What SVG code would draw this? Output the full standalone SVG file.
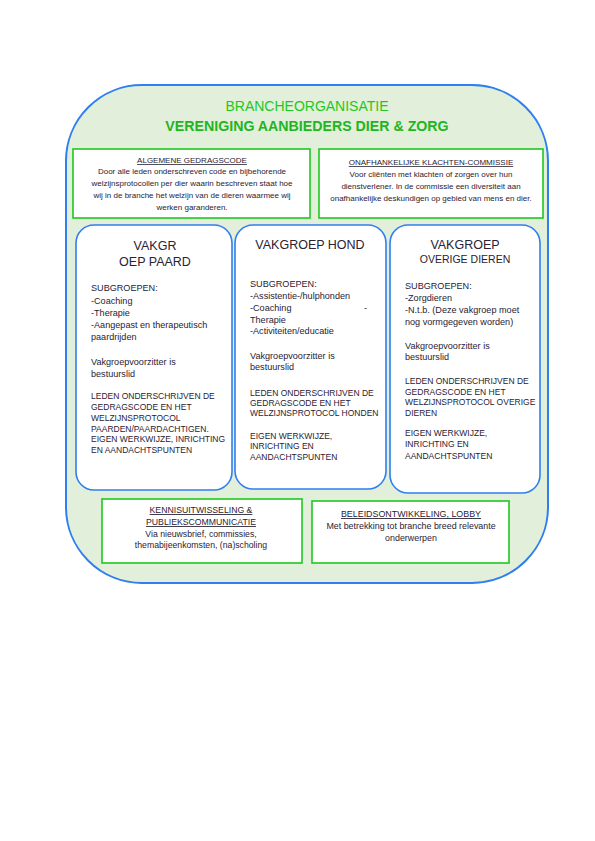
<svg xmlns="http://www.w3.org/2000/svg" width="595" height="841" viewBox="0 0 595 841">
<style>
text{font-family:"Liberation Sans",Arial,sans-serif;fill:#2a2233}
.t{font-size:8px;text-anchor:middle}
.u{text-decoration:underline}
.b{font-size:9.1px}
.c{font-size:8.5px}
.h{font-size:12.5px;text-anchor:middle}
.gbox{fill:#fff;stroke:#1ec81e;stroke-width:1.6}
.vbox{fill:#fff;stroke:#2f7ff0;stroke-width:1.6}
</style>
<rect width="595" height="841" fill="#fff"/>
<g id="brancheorganisatie">
<rect x="66" y="85" width="482" height="498" rx="76" ry="76" fill="#e2efda" stroke="#2f7ff0" stroke-width="2"/>
<text x="307" y="111" style="font-size:14px;text-anchor:middle;fill:#1ec81e">BRANCHEORGANISATIE</text>
<text x="307" y="131" style="font-size:14.2px;font-weight:bold;text-anchor:middle;fill:#22b522">VERENIGING AANBIEDERS DIER &amp; ZORG</text>
</g>
<g id="gedragscode">
<rect class="gbox" x="73" y="149" width="237" height="69"/>
<text class="t u" x="192" y="163">ALGEMENE GEDRAGSCODE</text>
<text class="t" x="192" y="174">Door alle leden onderschreven code en bijbehorende</text>
<text class="t" x="192" y="186">welzijnsprotocollen per dier waarin beschreven staat hoe</text>
<text class="t" x="192" y="198">wij in de branche het welzijn van de dieren waarmee wij</text>
<text class="t" x="192" y="210">werken garanderen.</text>
</g>
<g id="klachtencommissie">
<rect class="gbox" x="319" y="149" width="224" height="69"/>
<text class="t u" x="431" y="165">ONAFHANKELIJKE KLACHTEN-COMMISSIE</text>
<text class="t" x="431" y="177">Voor cliënten met klachten of zorgen over hun</text>
<text class="t" x="431" y="189">dienstverlener. In de commissie een diversiteit aan</text>
<text class="t" x="431" y="201">onafhankelijke deskundigen op gebied van mens en dier.</text>
</g>
<g id="vakgroep-paard">
<rect class="vbox" x="76" y="225" width="156" height="265" rx="18"/>
<text class="h" x="155" y="250">VAKGR</text>
<text class="h" x="155" y="266">OEP PAARD</text>
<text class="b" x="91" y="291">SUBGROEPEN:</text>
<text class="b" x="91" y="304">-Coaching</text>
<text class="b" x="91" y="316">-Therapie</text>
<text class="b" x="91" y="328">-Aangepast en therapeutisch</text>
<text class="b" x="91" y="340">paardrijden</text>
<text class="b" x="91" y="365">Vakgroepvoorzitter is</text>
<text class="b" x="91" y="377">bestuurslid</text>
<text class="c" x="91" y="399">LEDEN ONDERSCHRIJVEN DE</text>
<text class="c" x="91" y="410">GEDRAGSCODE EN HET</text>
<text class="c" x="91" y="421">WELZIJNSPROTOCOL</text>
<text class="c" x="91" y="432">PAARDEN/PAARDACHTIGEN.</text>
<text class="c" x="91" y="442">EIGEN WERKWIJZE, INRICHTING</text>
<text class="c" x="91" y="453">EN AANDACHTSPUNTEN</text>
</g>
<g id="vakgroep-hond">
<rect class="vbox" x="235" y="225" width="151" height="264" rx="18"/>
<text class="h" x="310" y="249">VAKGROEP HOND</text>
<text class="b" x="250" y="287">SUBGROEPEN:</text>
<text class="b" x="250" y="299">-Assistentie-/hulphonden</text>
<text class="b" x="250" y="311">-Coaching</text>
<text class="b" x="364" y="311">-</text>
<text class="b" x="250" y="323">Therapie</text>
<text class="b" x="250" y="334">-Activiteiten/educatie</text>
<text class="b" x="250" y="359">Vakgroepvoorzitter is</text>
<text class="b" x="250" y="370">bestuurslid</text>
<text class="c" x="250" y="396">LEDEN ONDERSCHRIJVEN DE</text>
<text class="c" x="250" y="406">GEDRAGSCODE EN HET</text>
<text class="c" x="250" y="416">WELZIJNSPROTOCOL HONDEN</text>
<text class="c" x="250" y="439">EIGEN WERKWIJZE,</text>
<text class="c" x="250" y="449">INRICHTING EN</text>
<text class="c" x="250" y="460">AANDACHTSPUNTEN</text>
</g>
<g id="vakgroep-overige">
<rect class="vbox" x="390" y="225" width="150" height="268" rx="18"/>
<text class="h" x="465" y="249">VAKGROEP</text>
<text x="465" y="263" style="font-size:10.5px;text-anchor:middle">OVERIGE DIEREN</text>
<text class="b" x="405" y="289">SUBGROEPEN:</text>
<text class="b" x="405" y="301">-Zorgdieren</text>
<text class="b" x="405" y="313">-N.t.b. (Deze vakgroep moet</text>
<text class="b" x="405" y="325">nog vormgegeven worden)</text>
<text class="b" x="405" y="349">Vakgroepvoorzitter is</text>
<text class="b" x="405" y="360">bestuurslid</text>
<text class="c" x="405" y="384">LEDEN ONDERSCHRIJVEN DE</text>
<text class="c" x="405" y="395">GEDRAGSCODE EN HET</text>
<text class="c" x="405" y="405">WELZIJNSPROTOCOL OVERIGE</text>
<text class="c" x="405" y="416">DIEREN</text>
<text class="c" x="405" y="436">EIGEN WERKWIJZE,</text>
<text class="c" x="405" y="447">INRICHTING EN</text>
<text class="c" x="405" y="459">AANDACHTSPUNTEN</text>
</g>
<g id="kennisuitwisseling">
<rect class="gbox" x="102" y="499" width="200" height="64"/>
<text class="t u" x="201" y="513" style="font-size:8.7px">KENNISUITWISSELING &amp;</text>
<text class="t u" x="201" y="525" style="font-size:8.7px">PUBLIEKSCOMMUNICATIE</text>
<text class="t" x="201" y="537" style="font-size:8.7px">Via nieuwsbrief, commissies,</text>
<text class="t" x="201" y="548" style="font-size:8.7px">themabijeenkomsten, (na)scholing</text>
</g>
<g id="beleidsontwikkeling">
<rect class="gbox" x="312" y="501" width="197" height="62"/>
<text class="t u" x="411" y="517" style="font-size:8.9px">BELEIDSONTWIKKELING, LOBBY</text>
<text class="t" x="411" y="529" style="font-size:8.9px">Met betrekking tot branche breed relevante</text>
<text class="t" x="411" y="541" style="font-size:8.9px">onderwerpen</text>
</g>
<g id="connectors"></g>
</svg>
